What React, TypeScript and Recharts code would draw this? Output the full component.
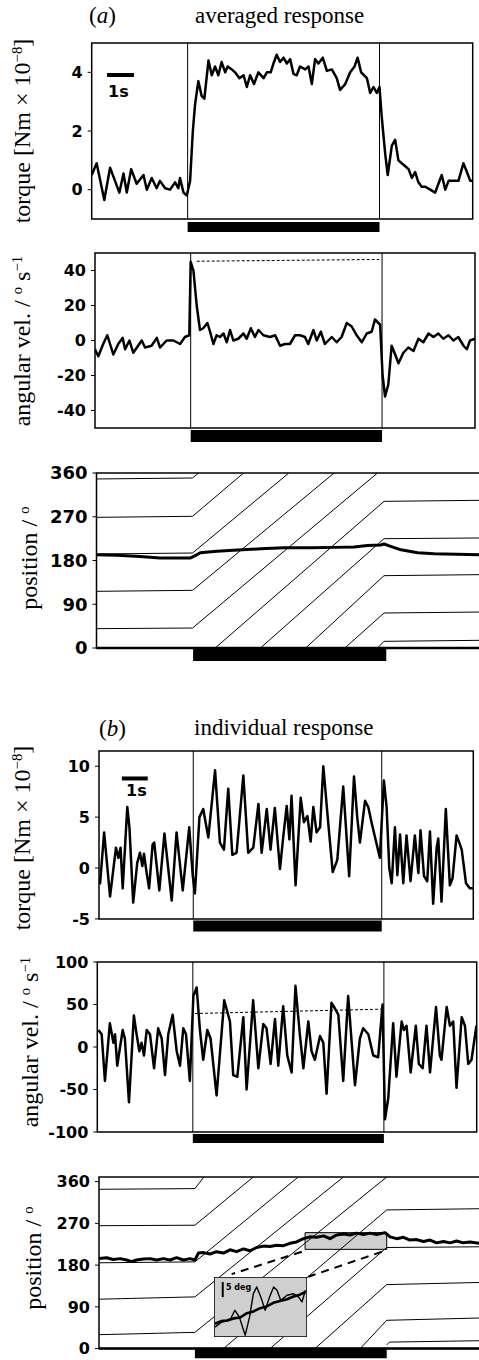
import React from "react";
import { LineChart, Line, XAxis, YAxis, ReferenceLine, ReferenceArea } from "recharts";

// time axis (s) and stimulus period
const T_END = 13.9;
const STIM = [3.5, 10.5];

// (a) averaged response, [t s, torque Nm x 1e-8]
const avgTorque: [number, number][] = [
  [0, 0.5], [0.18, 0.9], [0.46, -0.35], [0.67, 0.75], [0.85, 0.3], [1.01, -0.1], [1.16, 0.55], [1.28, -0.1],
  [1.44, 0.7], [1.64, 0.2], [1.89, 0.5], [2.01, 0], [2.19, 0.4], [2.37, 0.05], [2.49, 0.3], [2.68, 0.05],
  [2.86, 0], [3.04, 0.25], [3.16, 0.05], [3.22, 0.4], [3.35, -0.1], [3.47, -0.2], [3.59, 0.3], [3.69, 2.0],
  [3.77, 2.9], [3.89, 3.7], [4.01, 3.2], [4.11, 3.1], [4.26, 4.4], [4.38, 3.9], [4.5, 4.2], [4.62, 3.9],
  [4.74, 4.35], [4.87, 4.0], [4.96, 4.2], [5.11, 4.1], [5.23, 4.0], [5.39, 3.8], [5.54, 3.9], [5.66, 3.5],
  [5.78, 3.9], [5.92, 3.6], [6.08, 4.0], [6.27, 3.8], [6.39, 4.0], [6.53, 4.0], [6.63, 4.3], [6.75, 4.6],
  [6.87, 4.35], [7.0, 4.5], [7.12, 4.3], [7.24, 4.45], [7.36, 3.95], [7.48, 3.9], [7.6, 4.2], [7.79, 4.1],
  [7.91, 4.2], [8.03, 3.6], [8.15, 4.45], [8.27, 4.3], [8.43, 4.5], [8.58, 4.05], [8.76, 4.1], [8.94, 3.8],
  [9.06, 3.4], [9.25, 3.6], [9.43, 4.0], [9.59, 4.2], [9.7, 4.5], [9.83, 4.0], [10.04, 3.8], [10.16, 3.3],
  [10.28, 3.5], [10.4, 3.3], [10.5, 3.5], [10.58, 2.5], [10.71, 1.2], [10.8, 0.5], [10.95, 1.5], [11.07, 1.7],
  [11.19, 1.0], [11.31, 0.9], [11.44, 0.8], [11.56, 0.7], [11.68, 0.4], [11.8, 0.6], [11.92, 0.25], [12.04, 0.1],
  [12.17, 0.1], [12.35, 0], [12.53, -0.1], [12.65, 0.2], [12.77, 0.5], [12.9, 0], [13.02, 0.3], [13.2, 0.3],
  [13.38, 0.3], [13.56, 0.9], [13.69, 0.6], [13.81, 0.3], [13.9, 0.3],
];

// [t, deg/s]
const avgVel: [number, number][] = [
  [0, -5], [0.12, -9], [0.3, -2], [0.45, 3], [0.67, -8], [0.85, -2], [1.01, 1.5], [1.1, -5], [1.26, 0],
  [1.4, -7], [1.71, 0], [1.83, -4], [2.07, -3], [2.26, 1.5], [2.38, -4], [2.62, 0], [2.87, 0], [3.11, -2],
  [3.29, 2], [3.45, 3], [3.5, 45], [3.6, 40], [3.72, 20], [3.84, 6], [3.96, 7], [4.11, 10], [4.21, 5],
  [4.33, -2], [4.45, 3], [4.57, 2], [4.7, 4], [4.82, -1], [4.94, 6], [5.06, 0], [5.24, 1], [5.43, 4],
  [5.55, 1], [5.7, 7], [5.85, 2], [5.98, 6], [6.16, 3], [6.4, 2], [6.59, 3], [6.77, -3], [6.95, -2],
  [7.13, -2], [7.32, 3], [7.5, 3], [7.68, 2], [7.8, -2], [7.99, 6], [8.11, 0], [8.26, 5], [8.41, -2],
  [8.66, 2], [8.84, -1], [9.02, 2], [9.21, 10], [9.39, 8], [9.57, 3], [9.76, -1], [9.94, 4], [10.12, 5],
  [10.24, 12], [10.43, 9], [10.52, -20], [10.61, -32], [10.73, -25], [10.85, -3], [10.98, -8], [11.1, -13],
  [11.28, -7], [11.46, -4], [11.65, -6], [11.83, 1], [12.01, -1], [12.2, 4], [12.38, 2], [12.56, 4],
  [12.74, 1], [12.93, 3], [13.11, 0], [13.29, 2], [13.48, -3], [13.6, -5], [13.72, 0], [13.9, 1],
];
const avgVelDash: [number, number][] = [[3.72, 45.3], [10.39, 46.3]];

// [t, deg]
const avgPos: [number, number][] = [
  [0, 192], [0.73, 191], [1.58, 188], [2.3, 185], [3.39, 185], [3.58, 190], [3.76, 196], [4.36, 199],
  [4.97, 201], [5.94, 204], [6.79, 206], [7.76, 206], [8.61, 207], [9.33, 208], [9.82, 211], [10.3, 212],
  [10.42, 214], [10.61, 210], [11.03, 202], [11.64, 196], [12.24, 194], [13.9, 192],
];

// pattern stripes (a), each a polyline of [t, deg]
const stripesA: [number, number][][] = [
  [[0, 347.7], [3.48, 349.7], [3.7, 360]],
  [[0, 268.8], [3.48, 270.9], [5.33, 360]],
  [[0, 193.4], [3.48, 195.4], [6.97, 360]],
  [[0, 116.6], [3.48, 118.6], [8.61, 360]],
  [[0, 39.8], [3.48, 41.1], [10.18, 360]],
  [[10.18, 0], [10.42, 13.7], [13.9, 15.8]],
  [[4.3, 0], [10.42, 301.7], [13.9, 303.8]],
  [[5.94, 0], [10.42, 224.9], [13.9, 226.3]],
  [[7.58, 0], [10.42, 148.8], [13.9, 150.9]],
  [[9.0, 0], [10.42, 72], [13.9, 74]],
];

// (b) individual response
const indTorque: [number, number][] = [
  [0, -1], [0.04, -1.5], [0.19, 3.5], [0.41, -2.8], [0.63, 2.0], [0.72, 1.0], [0.8, 2.0], [0.88, -2.0],
  [1.05, 6.0], [1.13, 4.0], [1.27, -3.4], [1.42, 0.5], [1.52, 1.5], [1.61, 0.2], [1.67, 1.4], [1.77, -0.5],
  [1.86, -2.0], [1.99, 2.3], [2.05, 2.5], [2.24, -2.2], [2.43, 3.4], [2.7, -3.2], [2.88, 3.5], [3.11, -2.2],
  [3.35, 4.0], [3.48, -0.7], [3.56, -2.5], [3.73, 5.0], [3.87, 5.8], [4.06, 3.0], [4.31, 9.6], [4.49, 2.5],
  [4.64, 1.8], [4.8, 7.8], [4.95, 1.3], [5.11, 1.5], [5.36, 9.1], [5.54, 1.5], [5.73, 2.0], [5.92, 6.3],
  [6.04, 1.5], [6.23, 5.8], [6.37, 1.8], [6.53, 5.9], [6.72, -0.1], [6.84, 3.0], [6.97, 6.1], [7.07, 2.8],
  [7.15, 7.1], [7.3, -1.7], [7.49, 6.9], [7.61, 4.5], [7.74, 5.1], [7.86, 2.6], [7.96, 6.0], [8.08, 3.5],
  [8.21, 4.0], [8.33, 10.0], [8.51, 4.5], [8.68, -0.4], [8.85, 0.8], [9.07, 8.0], [9.2, 2.8], [9.29, -0.8],
  [9.47, 9.0], [9.59, 5.0], [9.69, 2.5], [9.88, 6.6], [10.0, 6.0], [10.12, 4.5], [10.43, 1.0], [10.58, 8.6],
  [10.68, 6.0], [10.78, 0], [10.87, -1.5], [10.99, 4.0], [11.08, -0.7], [11.18, 3.3], [11.3, -1.5],
  [11.42, 3.2], [11.57, -1.3], [11.73, 3.2], [11.86, -0.5], [11.94, 3.7], [12.07, -0.8], [12.19, -1.3],
  [12.29, 3.6], [12.41, -3.5], [12.54, 2.0], [12.6, 2.9], [12.72, -3.3], [12.88, 5.8], [13.03, -1.7],
  [13.13, -1.0], [13.28, 3.2], [13.38, 2.5], [13.47, 1.8], [13.63, -1.5], [13.77, -2.0], [13.9, -2.0],
];

const indVel: [number, number][] = [
  [0.04, 20], [0.16, 15], [0.28, -40], [0.46, 28], [0.59, 5], [0.65, 15], [0.73, -22], [0.93, 20], [1.01, 10],
  [1.16, -65], [1.34, 37], [1.44, 15], [1.54, -5], [1.62, 5], [1.71, -10], [1.81, 20], [1.93, 15], [2.08, -25],
  [2.23, 22], [2.36, 10], [2.48, -33], [2.6, 15], [2.76, 38], [2.91, -5], [3.03, -22], [3.15, 22], [3.25, 15],
  [3.39, -40], [3.52, 60], [3.64, 70], [3.76, 20], [3.88, -15], [4.03, 20], [4.15, 10], [4.37, -57], [4.65, 55],
  [4.86, 30], [4.98, -33], [5.13, -35], [5.35, 35], [5.47, -50], [5.71, 55], [5.9, -25], [6.08, 27], [6.2, 22],
  [6.35, -20], [6.51, 33], [6.63, -22], [6.81, 48], [6.96, -10], [7.12, -30], [7.26, 72], [7.42, 15],
  [7.55, -25], [7.73, 30], [7.85, -5], [7.97, -15], [8.16, 13], [8.28, 5], [8.4, -55], [8.58, 52], [8.71, 45],
  [8.83, 38], [9.01, -40], [9.19, 60], [9.44, -45], [9.62, 10], [9.74, 22], [9.93, 15], [10.11, -10],
  [10.29, -12], [10.45, 50], [10.54, -85], [10.66, -60], [10.84, 28], [10.96, -35], [11.15, 30], [11.23, 20],
  [11.33, 25], [11.48, -30], [11.67, 25], [11.78, -20], [11.92, -25], [12.06, 25], [12.19, -30], [12.41, 47],
  [12.55, -10], [12.61, -15], [12.8, 47], [12.92, 25], [13.04, 30], [13.16, -48], [13.35, 35], [13.47, 25],
  [13.59, -20], [13.71, -15], [13.89, 25],
];
const indVelDash: [number, number][] = [[3.58, 39.4], [10.42, 44.5]];

const indPos: [number, number][] = [
  [0, 194.5], [0.28, 196], [0.52, 192], [0.77, 194], [1.01, 191], [1.19, 187.5], [1.37, 191], [1.62, 193],
  [1.86, 194], [2.1, 191], [2.35, 194], [2.59, 191], [2.83, 196], [3.08, 191], [3.32, 194], [3.5, 191],
  [3.63, 206], [3.81, 207], [4.05, 204], [4.29, 209], [4.54, 206], [4.78, 213], [5.02, 209], [5.27, 215],
  [5.51, 211], [5.75, 218], [6.0, 221], [6.24, 220], [6.48, 223], [6.73, 222], [6.97, 227], [7.21, 230],
  [7.46, 237], [7.7, 241], [7.94, 240], [8.19, 243], [8.43, 237], [8.67, 245], [8.92, 247], [9.16, 245],
  [9.4, 249], [9.65, 246], [9.89, 249], [10.13, 246], [10.44, 250], [10.62, 241], [10.86, 237], [11.11, 240],
  [11.35, 234], [11.59, 235], [11.84, 231], [12.08, 234], [12.32, 228], [12.57, 231], [12.81, 228],
  [13.05, 232], [13.29, 228], [13.54, 230], [13.9, 227],
];

const stripesB: [number, number][][] = [
  [[0, 343.5], [3.5, 345], [3.83, 370]],
  [[0, 265], [3.5, 266], [5.63, 370]],
  [[0, 185], [3.5, 187], [7.27, 370]],
  [[0, 106.5], [3.5, 111.5], [8.92, 370]],
  [[0, 30], [3.5, 35], [10.5, 370]],
  [[10.5, 8], [10.6, 14], [13.9, 17]],
  [[4.54, 0], [10.5, 299], [13.9, 301.6]],
  [[6.24, 0], [10.5, 218], [13.9, 219.5]],
  [[7.88, 0], [10.5, 138], [13.9, 142.6]],
  [[9.53, 0], [10.5, 61], [13.9, 66]],
];

// magnified window of (b) position: t range and deg range of the small box
const zoomT = [7.52, 10.5];
const zoomDeg = [214, 250];
const insetBox = [4.2, 7.58, 25, 155];
// inset traces, [t, deg above inset floor]
const insetSlow: [number, number][] = [
  [7.55, 4.4], [7.75, 5.3], [7.93, 5.5], [8.15, 6.2], [8.36, 6.5], [8.55, 7.8], [8.78, 8.5], [9.0, 9.6],
  [9.21, 10.2], [9.42, 11.4], [9.64, 12.0], [9.86, 12.6], [10.07, 13.5], [10.27, 14.1], [10.45, 15],
];
const insetFast: [number, number][] = [
  [7.55, 3.3], [7.77, 5.0], [8.03, 5.6], [8.19, 8.9], [8.33, 6.7], [8.52, 0.6], [8.66, 6.7], [8.78, 14.4],
  [8.89, 16.7], [9.02, 13.3], [9.16, 8.9], [9.3, 13.3], [9.43, 16.7], [9.54, 15.6], [9.66, 12.2],
  [9.86, 13.9], [10.07, 14.4], [10.23, 13.3], [10.34, 11.7], [10.45, 15.6],
];

const SANS = '"DejaVu Sans", sans-serif';
const SERIF = '"Liberation Serif", "Times New Roman", serif';
const AXIS_W = 60;

const pts = (arr: [number, number][]) => arr.map(([t, v]) => ({ t, v }));

type PanelProps = {
  top: number;
  plotH: number;
  left: number;
  right: number;
  width?: number;
  domain: [number, number];
  ticks: number[];
  fontSize?: number;
  bar: [number, number];
  children?: React.ReactNode;
};

function Panel({ top, plotH, left, right, width = 479, domain, ticks, fontSize = 16, bar, children }: PanelProps) {
  const mt = 14;
  const mb = 30;
  return (
    <div style={{ position: "absolute", left: 0, top: top - mt }}>
      <LineChart
        width={width}
        height={plotH + mt + mb}
        margin={{ top: mt, right: width - right, bottom: mb, left: left - AXIS_W }}
      >
        <XAxis type="number" dataKey="t" domain={[0, T_END]} allowDataOverflow hide />
        <YAxis
          type="number"
          domain={domain}
          ticks={ticks}
          interval={0}
          allowDataOverflow
          width={AXIS_W}
          axisLine={false}
          tickSize={4}
          tickMargin={5}
          tickLine={{ stroke: "#000" }}
          tick={{ fontSize, fontFamily: SANS, fontWeight: "bold", fill: "#000" }}
        />
        <ReferenceArea x1={0} x2={T_END} y1={domain[0]} y2={domain[1]} fill="none" stroke="#000" strokeWidth={1.5} />
        <ReferenceArea
          x1={STIM[0]}
          x2={STIM[1]}
          y1={bar[0]}
          y2={bar[1]}
          fill="#000"
          fillOpacity={1}
          stroke="none"
          ifOverflow="visible"
        />
        {children}
      </LineChart>
    </div>
  );
}

const trace = (key: string, arr: [number, number][], w = 2.5) => (
  <Line
    key={key}
    data={pts(arr)}
    dataKey="v"
    type="linear"
    dot={false}
    stroke="#000"
    strokeWidth={w}
    strokeLinejoin="round"
    isAnimationActive={false}
  />
);

const stimLines = [
  <ReferenceLine key="s0" x={STIM[0]} stroke="#000" strokeWidth={1} />,
  <ReferenceLine key="s1" x={STIM[1]} stroke="#000" strokeWidth={1} />,
];

function YTitle({ x, y, children }: { x: number; y: number; children: React.ReactNode }) {
  return (
    <div
      style={{
        position: "absolute",
        left: x,
        top: y,
        transform: "translate(-50%, -50%) rotate(-90deg)",
        whiteSpace: "nowrap",
        fontFamily: SERIF,
        fontSize: 24,
        lineHeight: 1,
      }}
    >
      {children}
    </div>
  );
}

const sup = { fontSize: "0.62em", verticalAlign: "0.55em" } as const;

function Txt({ x, y, size, family, style, children }: any) {
  return (
    <div style={{ position: "absolute", left: x, top: y, fontSize: size, fontFamily: family, lineHeight: 1, whiteSpace: "nowrap", ...style }}>
      {children}
    </div>
  );
}

export default function App() {
  return (
    <div style={{ position: "absolute", left: 0, top: 0, width: 479, height: 1360, overflow: "hidden", background: "#fff" }}>
      {/* (a) averaged response */}
      <Txt x={89} y={4} size={23} family={SERIF}>(<i>a</i>)</Txt>
      <Txt x={195} y={4} size={23} family={SERIF}>averaged response</Txt>

      <Panel top={43} plotH={176} left={91.7} right={472.7} domain={[-1, 5]} ticks={[0, 2, 4]} bar={[-1.44, -1.1]}>
        {stimLines}
        <ReferenceLine segment={[{ x: 0.56, y: 3.91 }, { x: 1.54, y: 3.91 }]} stroke="#000" strokeWidth={4} />
        {trace("at", avgTorque)}
      </Panel>
      <Txt x={108} y={84} size={16} family={SANS} style={{ fontWeight: "bold" }}>1s</Txt>
      <YTitle x={22} y={131}>
        torque [Nm × 10<span style={sup}>−8</span>]
      </YTitle>

      <Panel top={253} plotH={175} left={95} right={475} domain={[-50, 50]} ticks={[-40, -20, 0, 20, 40]} bar={[-58, -51.1]}>
        {stimLines}
        <ReferenceLine segment={avgVelDash.map(([x, y]) => ({ x, y }))} stroke="#000" strokeWidth={1} strokeDasharray="3 2" />
        {trace("av", avgVel)}
      </Panel>
      <YTitle x={22} y={341}>
        angular vel. / <span style={sup}>o</span> s<span style={sup}>−1</span>
      </YTitle>

      <Panel top={473} plotH={175} left={96.5} right={480.1} width={484} domain={[0, 360]} ticks={[0, 90, 180, 270, 360]} fontSize={18} bar={[-26.5, -2]}>
        <ReferenceLine y={0} stroke="#000" strokeWidth={2.5} />
        {stripesA.map((s, i) => trace("sa" + i, s, 1))}
        {trace("ap", avgPos, 3)}
      </Panel>
      <YTitle x={29} y={558}>
        position / <span style={sup}>o</span>
      </YTitle>

      {/* (b) individual response */}
      <Txt x={99} y={717} size={23} family={SERIF}>(<i>b</i>)</Txt>
      <Txt x={194} y={716} size={23} family={SERIF}>individual response</Txt>

      <Panel top={750.6} plotH={167.9} left={99} right={473.3} domain={[-5, 11.5]} ticks={[-5, 0, 5, 10]} bar={[-6.23, -5.15]}>
        {stimLines}
        <ReferenceLine segment={[{ x: 0.85, y: 8.8 }, { x: 1.81, y: 8.8 }]} stroke="#000" strokeWidth={4} />
        {trace("bt", indTorque)}
      </Panel>
      <Txt x={126} y={783} size={16} family={SANS} style={{ fontWeight: "bold" }}>1s</Txt>
      <YTitle x={22} y={838}>
        torque [Nm × 10<span style={sup}>−8</span>]
      </YTitle>

      <Panel top={962} plotH={170} left={97.3} right={476.7} domain={[-100, 100]} ticks={[-100, -50, 0, 50, 100]} bar={[-112.9, -102.4]}>
        {stimLines}
        <ReferenceLine segment={indVelDash.map(([x, y]) => ({ x, y }))} stroke="#000" strokeWidth={1} strokeDasharray="3 2" />
        {trace("bv", indVel)}
      </Panel>
      <YTitle x={30} y={1042}>
        angular vel. / <span style={sup}>o</span> s<span style={sup}>−1</span>
      </YTitle>

      <Panel top={1176.7} plotH={171.6} left={99} right={479.9} width={484} domain={[0, 370]} ticks={[0, 90, 180, 270, 360]} bar={[-21, -1]}>
        <ReferenceLine y={0} stroke="#000" strokeWidth={2.5} />
        {stripesB.map((s, i) => trace("sb" + i, s, 1))}
        <ReferenceArea x1={zoomT[0]} x2={zoomT[1]} y1={zoomDeg[0]} y2={zoomDeg[1]} fill="#cfcfcf" fillOpacity={1} stroke="#000" strokeWidth={1} />
        <ReferenceLine segment={[{ x: 7.4, y: 208.7 }, { x: 4.84, y: 160.5 }]} stroke="#000" strokeWidth={2} strokeDasharray="8 6" />
        <ReferenceLine segment={[{ x: 10.32, y: 208.7 }, { x: insetBox[1] + 0.06, y: insetBox[3] }]} stroke="#000" strokeWidth={2} strokeDasharray="8 6" />
        {trace("bp", indPos, 3)}
      </Panel>
      <YTitle x={33} y={1258}>
        position / <span style={sup}>o</span>
      </YTitle>

      {/* magnified inset */}
      <div style={{ position: "absolute", left: 214, top: 1276.7 }}>
        <LineChart width={93} height={60} margin={{ top: 0, right: 0, bottom: 0, left: 0 }}>
          <XAxis type="number" dataKey="t" domain={zoomT} allowDataOverflow hide />
          <YAxis type="number" domain={[0, 20]} allowDataOverflow hide />
          <ReferenceArea x1={zoomT[0]} x2={zoomT[1]} y1={0} y2={20} fill="#cfcfcf" fillOpacity={1} stroke="#000" strokeWidth={1.5} />
          <ReferenceLine segment={[{ x: 7.8, y: 13.3 }, { x: 7.8, y: 18.3 }]} stroke="#000" strokeWidth={2} />
          {trace("is", insetSlow, 2.6)}
          {trace("if", insetFast, 1.4)}
        </LineChart>
      </div>
      <Txt x={226} y={1284} size={8} family={SANS} style={{ fontWeight: "bold" }}>5 deg</Txt>
    </div>
  );
}
